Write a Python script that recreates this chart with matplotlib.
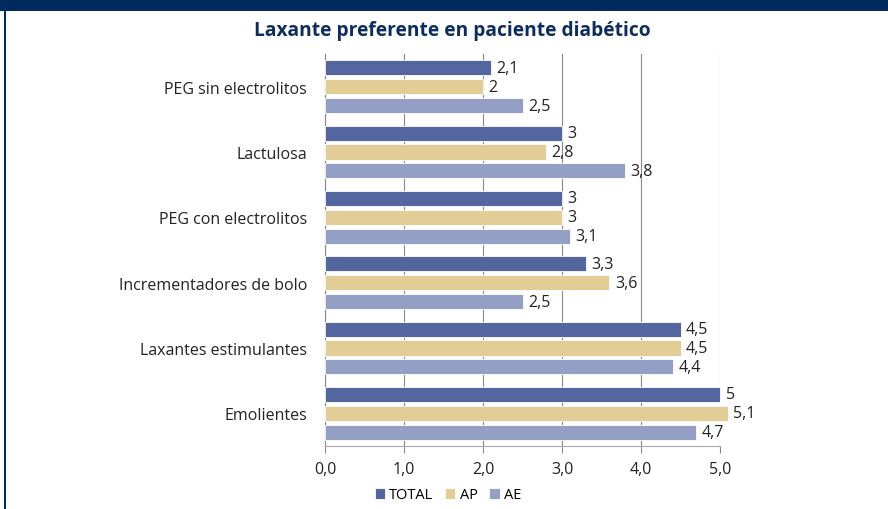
import matplotlib.pyplot as plt
import numpy as np
from matplotlib.patches import Rectangle

categories = ["PEG sin electrolitos", "Lactulosa", "PEG con electrolitos",
              "Incrementadores de bolo", "Laxantes estimulantes", "Emolientes"]
total = [2.1, 3, 3, 3.3, 4.5, 5]
ap = [2, 2.8, 3, 3.6, 4.5, 5.1]
ae = [2.5, 3.8, 3.1, 2.5, 4.4, 4.7]
series_names = ["TOTAL", "AP", "AE"]
colors = ["#5466a0", "#e3cd96", "#949fc6"]
x_ticks = [0, 1, 2, 3, 4, 5]

plt.rcParams['font.family'] = ['Open Sans', 'DejaVu Sans']

fig = plt.figure(figsize=(8.88, 5.10), dpi=100)
W, H = 888, 510

# navy header band and left border
fig.patches.append(Rectangle((0, 1 - 12 / H), 1, 12 / H, transform=fig.transFigure,
                             facecolor="#002b5e", edgecolor="none"))
fig.patches.append(Rectangle((4 / W, 0), 2 / W, 1 - 12 / H, transform=fig.transFigure,
                             facecolor="#002b5e", edgecolor="none"))

fig.text(452 / W, 1 - 31 / H, "Laxante preferente en paciente diabético",
         ha="center", va="center", fontsize=13.8, fontweight="bold", color="#0d2d5f",
         family=["Liberation Sans Narrow", "Open Sans", "DejaVu Sans"])

ax = fig.add_axes([325 / W, 1 - 447 / H, (720 - 325) / W, (447 - 55) / H])

n = len(categories)
pitch = 0.29
height = 0.23
base = np.arange(n)
for k, (vals, name, col) in enumerate(zip([total, ap, ae], series_names, colors)):
    ys = base + (k - 1) * pitch
    ax.barh(ys, vals, height=height, color=col, edgecolor="white",
            linewidth=0.6, label=name, clip_on=False, zorder=3)
    for y, v in zip(ys, vals):
        lab = ("%g" % v).replace(".", ",")
        ax.text(v + 0.07, y, lab, va="center", ha="left", fontsize=11.5, color="#222222",
                zorder=4)

ax.set_ylim(n - 0.5, -0.5)
ax.set_xlim(0, 5)
ax.set_yticks(base)
ax.set_yticklabels(categories, fontsize=11.5, color="#222222")
ax.set_xticks(x_ticks)
ax.set_xticklabels([("%.1f" % t).replace(".", ",") for t in x_ticks], fontsize=11.5,
                   color="#222222")
ax.tick_params(axis="y", length=0, pad=13)
ax.tick_params(axis="x", length=5, color="#888888", pad=6)
ax.grid(axis="x", color="#888888", linewidth=0.8, zorder=0)
for s in ["top", "right"]:
    ax.spines[s].set_visible(False)
ax.spines["left"].set_color("#888888")
ax.spines["bottom"].set_color("#aaaaaa")

ax.legend(loc="center", bbox_to_anchor=(448 / W, 1 - 496 / H), bbox_transform=fig.transFigure,
          ncol=3, frameon=False, fontsize=10.5, handlelength=0.7, handleheight=0.7,
          handletextpad=0.3, columnspacing=0.8)

fig.savefig("out.png", dpi=100)
